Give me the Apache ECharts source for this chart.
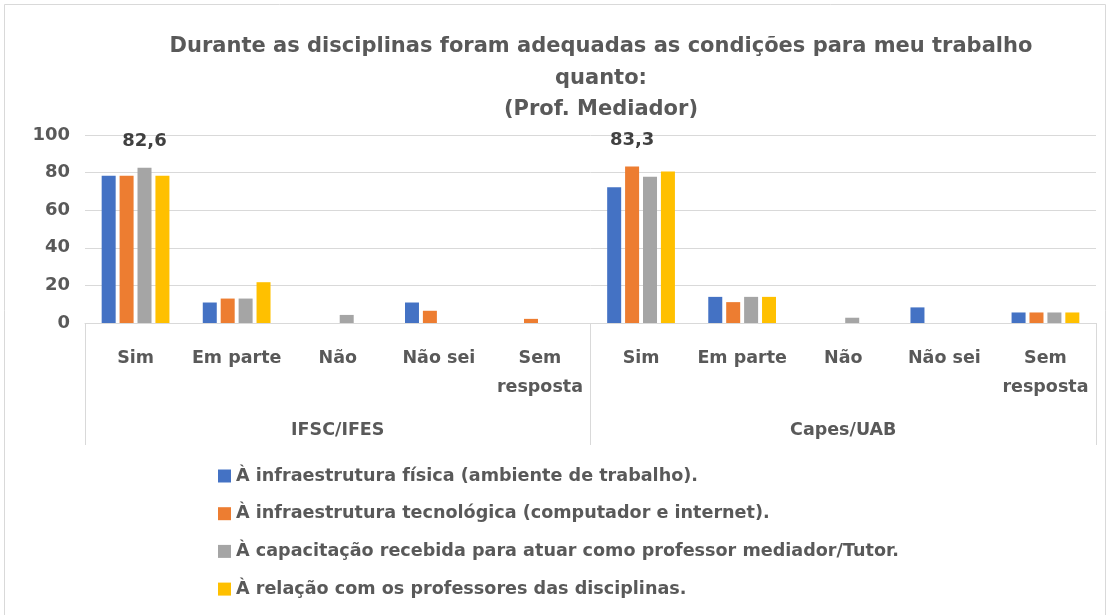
<!DOCTYPE html>
<html>
<head>
<meta charset="utf-8">
<script src="https://cdn.jsdelivr.net/npm/echarts@6/dist/echarts.min.js"></script>
<style>
  html, body { margin: 0; padding: 0; background: #fff; }
  #chart { width: 1110px; height: 615px; }
</style>
</head>
<body>
<div id="chart"></div>
<script>
  // categorias (dois níveis)
  var groups = ['IFSC/IFES', 'Capes/UAB'];
  var answers = ['Sim', 'Em parte', 'Não', 'Não sei', 'Sem\nresposta'];
  var seriesNames = [
    'À infraestrutura física (ambiente de trabalho).',
    'À infraestrutura tecnológica (computador e internet).',
    'À capacitação recebida para atuar como professor mediador/Tutor.',
    'À relação com os professores das disciplinas.'
  ];
  // valores (%) - IFSC/IFES depois Capes/UAB
  var fisica      = [78.3, 10.9, 0, 10.9, 0,    72.2, 13.9, 0,   8.3, 5.6];
  var tecnologica = [78.3, 13.0, 0, 6.5,  2.2,  83.3, 11.1, 0,   0,   5.6];
  var capacitacao = [82.6, 13.0, 4.3, 0,  0,    77.8, 13.9, 2.8, 0,   5.6];
  var relacao     = [78.3, 21.7, 0, 0,    0,    80.6, 13.9, 0,   0,   5.6];
  var yTicks = [0, 20, 40, 60, 80, 100];
  var colors = ['#4472c4', '#ed7d31', '#a5a5a5', '#ffc000'];

  var allValues = [fisica, tecnologica, capacitacao, relacao];
  var categories = [];
  groups.forEach(function () { answers.forEach(function (a) { categories.push(a); }); });

  // maior valor de cada grupo recebe rótulo
  function groupMax(g) {
    var m = 0;
    allValues.forEach(function (arr) {
      for (var i = g * answers.length; i < (g + 1) * answers.length; i++) m = Math.max(m, arr[i]);
    });
    return m;
  }
  var maxes = [groupMax(0), groupMax(1)];

  var chart = echarts.init(document.getElementById('chart'));
  var font = '"DejaVu Sans", sans-serif';
  var grey = '#595959';

  chart.setOption({
    textStyle: { fontFamily: font },
    animation: false,
    title: {
      text: 'Durante as disciplinas foram adequadas as condições para meu trabalho\nquanto:\n(Prof. Mediador)',
      left: 596,
      top: 26,
      textAlign: 'center',
      textStyle: { fontFamily: font, fontSize: 21, fontWeight: 'bold', color: grey, lineHeight: 31.5 }
    },
    graphic: [{
      type: 'rect',
      shape: { x: 4.5, y: 4.5, width: 1101, height: 620 },
      style: { fill: 'none', stroke: '#d9d9d9', lineWidth: 1 }
    }],
    legend: {
      orient: 'vertical',
      left: 213,
      top: 462,
      itemWidth: 13,
      itemHeight: 13,
      itemGap: 19.7,
      icon: 'rect',
      data: seriesNames,
      textStyle: { fontFamily: font, fontSize: 17.6, fontWeight: 'bold', color: grey, lineHeight: 18 }
    },
    grid: { left: 85, right: 14, top: 135, bottom: 292 },
    xAxis: [{
      type: 'category',
      data: categories,
      axisLine: { lineStyle: { color: '#d9d9d9' } },
      axisTick: { show: false },
      axisLabel: {
        interval: 0, margin: 21, fontSize: 17.5, fontWeight: 'bold', color: grey,
        lineHeight: 29, fontFamily: font
      }
    }, {
      type: 'category',
      data: groups,
      position: 'bottom',
      offset: 122,
      axisLine: { show: false },
      axisTick: { show: true, inside: true, length: 122, lineStyle: { color: '#d9d9d9' } },
      axisLabel: { inside: true, margin: 6, fontSize: 17.5, fontWeight: 'bold', color: grey, fontFamily: font }
    }],
    yAxis: {
      type: 'value',
      min: yTicks[0],
      max: yTicks[yTicks.length - 1],
      interval: 20,
      axisLine: { show: false },
      axisTick: { show: false },
      splitLine: { lineStyle: { color: '#d9d9d9', width: 1 } },
      axisLabel: { margin: 15, fontSize: 18, fontWeight: 'bold', color: grey, fontFamily: font }
    },
    series: allValues.map(function (vals, s) {
      return {
        name: seriesNames[s],
        type: 'bar',
        xAxisIndex: 0,
        barWidth: 14,
        barGap: '28%',
        itemStyle: { color: colors[s] },
        data: vals,
        label: {
          show: true,
          position: 'top',
          distance: 17,
          fontSize: 18,
          fontWeight: 'bold',
          color: '#404040',
          fontFamily: font,
          formatter: function (p) {
            var g = Math.floor(p.dataIndex / answers.length);
            if (p.value === maxes[g]) return String(p.value).replace('.', ',');
            return '';
          }
        }
      };
    })
  });
</script>
</body>
</html>
